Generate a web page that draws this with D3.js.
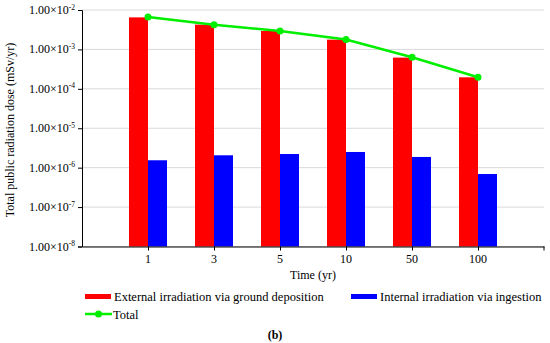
<!DOCTYPE html>
<html><head><meta charset="utf-8">
<script src="https://cdn.jsdelivr.net/npm/d3@7"></script>
<style>body{margin:0;background:#fff} text{font-family:'Liberation Serif','DejaVu Serif',serif}</style>
</head><body><svg id="c" width="550" height="343"></svg>
<script>
const categories = ["1","3","5","10","50","100"];
const external = [6.5e-3, 4.25e-3, 2.93e-3, 1.77e-3, 6.2e-4, 1.96e-4];
const internal = [1.54e-6, 2.06e-6, 2.22e-6, 2.5e-6, 1.87e-6, 6.9e-7];
const total = [6.6e-3, 4.2e-3, 2.95e-3, 1.78e-3, 6.3e-4, 1.97e-4];
const yTickExps = [-2,-3,-4,-5,-6,-7,-8];
const seriesNames = ["External irradiation via ground deposition","Internal irradiation via ingestion","Total"];
const colors = {ext:"#ff0000", int:"#0000ff", tot:"#00ee00"};
const FF = "'Liberation Serif','DejaVu Serif',serif";

const svg = d3.select("#c");
const L=82, R=544, T=10, B=246.5;
const y = d3.scaleLog().domain([1e-8,1e-2]).range([B,T]);
const x = d3.scalePoint().domain(["",...categories,"_"]).range([L,R]);
const bw = 19;

svg.append("g").selectAll("line").data(yTickExps).join("line")
  .attr("x1",L).attr("x2",R).attr("y1",d=>y(Math.pow(10,d))).attr("y2",d=>y(Math.pow(10,d)))
  .attr("stroke","#d9d9d9").attr("stroke-width",1);

svg.append("g").selectAll("rect").data(categories).join("rect")
  .attr("x",d=>x(d)-bw).attr("width",bw)
  .attr("y",(d,i)=>y(external[i])).attr("height",(d,i)=>B-y(external[i]))
  .attr("fill",colors.ext);
svg.append("g").selectAll("rect").data(categories).join("rect")
  .attr("x",d=>x(d)).attr("width",bw)
  .attr("y",(d,i)=>y(internal[i])).attr("height",(d,i)=>B-y(internal[i]))
  .attr("fill",colors.int);

const yAxis = d3.axisLeft(y).tickValues(yTickExps.map(e=>Math.pow(10,e))).tickSize(4).tickFormat("");
const gy = svg.append("g").attr("transform",`translate(${L},0)`).call(yAxis);
gy.select(".domain").attr("stroke","#000");
gy.selectAll(".tick line").attr("stroke","#000");
const xAxis = d3.axisBottom(x).tickValues([...categories]).tickSize(4).tickFormat("").tickSizeOuter(0);
const gx = svg.append("g").attr("transform",`translate(0,${B})`).call(xAxis);
gx.select(".domain").attr("stroke","#000");
gx.selectAll(".tick line").attr("stroke","#000");
svg.append("line").attr("x1",R).attr("x2",R).attr("y1",B).attr("y2",B+4).attr("stroke","#000");

function txt(){ return svg.append("text").attr("font-family",FF).attr("fill","#000"); }

yTickExps.forEach(e=>{
  const t = txt().attr("x",75).attr("y",y(Math.pow(10,e))+4)
    .attr("text-anchor","end").attr("font-size",12);
  t.append("tspan").text("1.00×10");
  t.append("tspan").attr("dy",-4.5).attr("font-size",7.5).text("-"+(-e));
});
categories.forEach(c=>{
  txt().attr("x",x(c)).attr("y",263).attr("text-anchor","middle").attr("font-size",12).text(c);
});
txt().attr("x",313).attr("y",279).attr("text-anchor","middle").attr("font-size",12).text("Time (yr)");
txt().attr("transform","translate(14,130) rotate(-90)").attr("text-anchor","middle")
  .attr("font-size",12).text("Total public radiation dose (mSv/yr)");

const line = d3.line().x((d,i)=>x(categories[i])).y(d=>y(d));
svg.append("path").datum(total).attr("d",line).attr("fill","none").attr("stroke",colors.tot).attr("stroke-width",2.5);
svg.append("g").selectAll("circle").data(total).join("circle")
  .attr("cx",(d,i)=>x(categories[i])).attr("cy",d=>y(d)).attr("r",3.5).attr("fill",colors.tot);

svg.append("rect").attr("x",85).attr("y",294).attr("width",26).attr("height",5).attr("fill",colors.ext);
txt().attr("x",114).attr("y",300.5).attr("font-size",12.5).text(seriesNames[0]);
svg.append("rect").attr("x",351).attr("y",294).attr("width",26).attr("height",5).attr("fill",colors.int);
txt().attr("x",380).attr("y",300.5).attr("font-size",12.5).text(seriesNames[1]);
svg.append("line").attr("x1",85).attr("x2",112).attr("y1",314).attr("y2",314).attr("stroke",colors.tot).attr("stroke-width",2.5);
svg.append("circle").attr("cx",98.5).attr("cy",314).attr("r",3.5).attr("fill",colors.tot);
txt().attr("x",113).attr("y",318.5).attr("font-size",12.5).text(seriesNames[2]);

txt().attr("x",275).attr("y",339).attr("text-anchor","middle").attr("font-size",12).attr("font-weight","bold").text("(b)");
</script></body></html>
